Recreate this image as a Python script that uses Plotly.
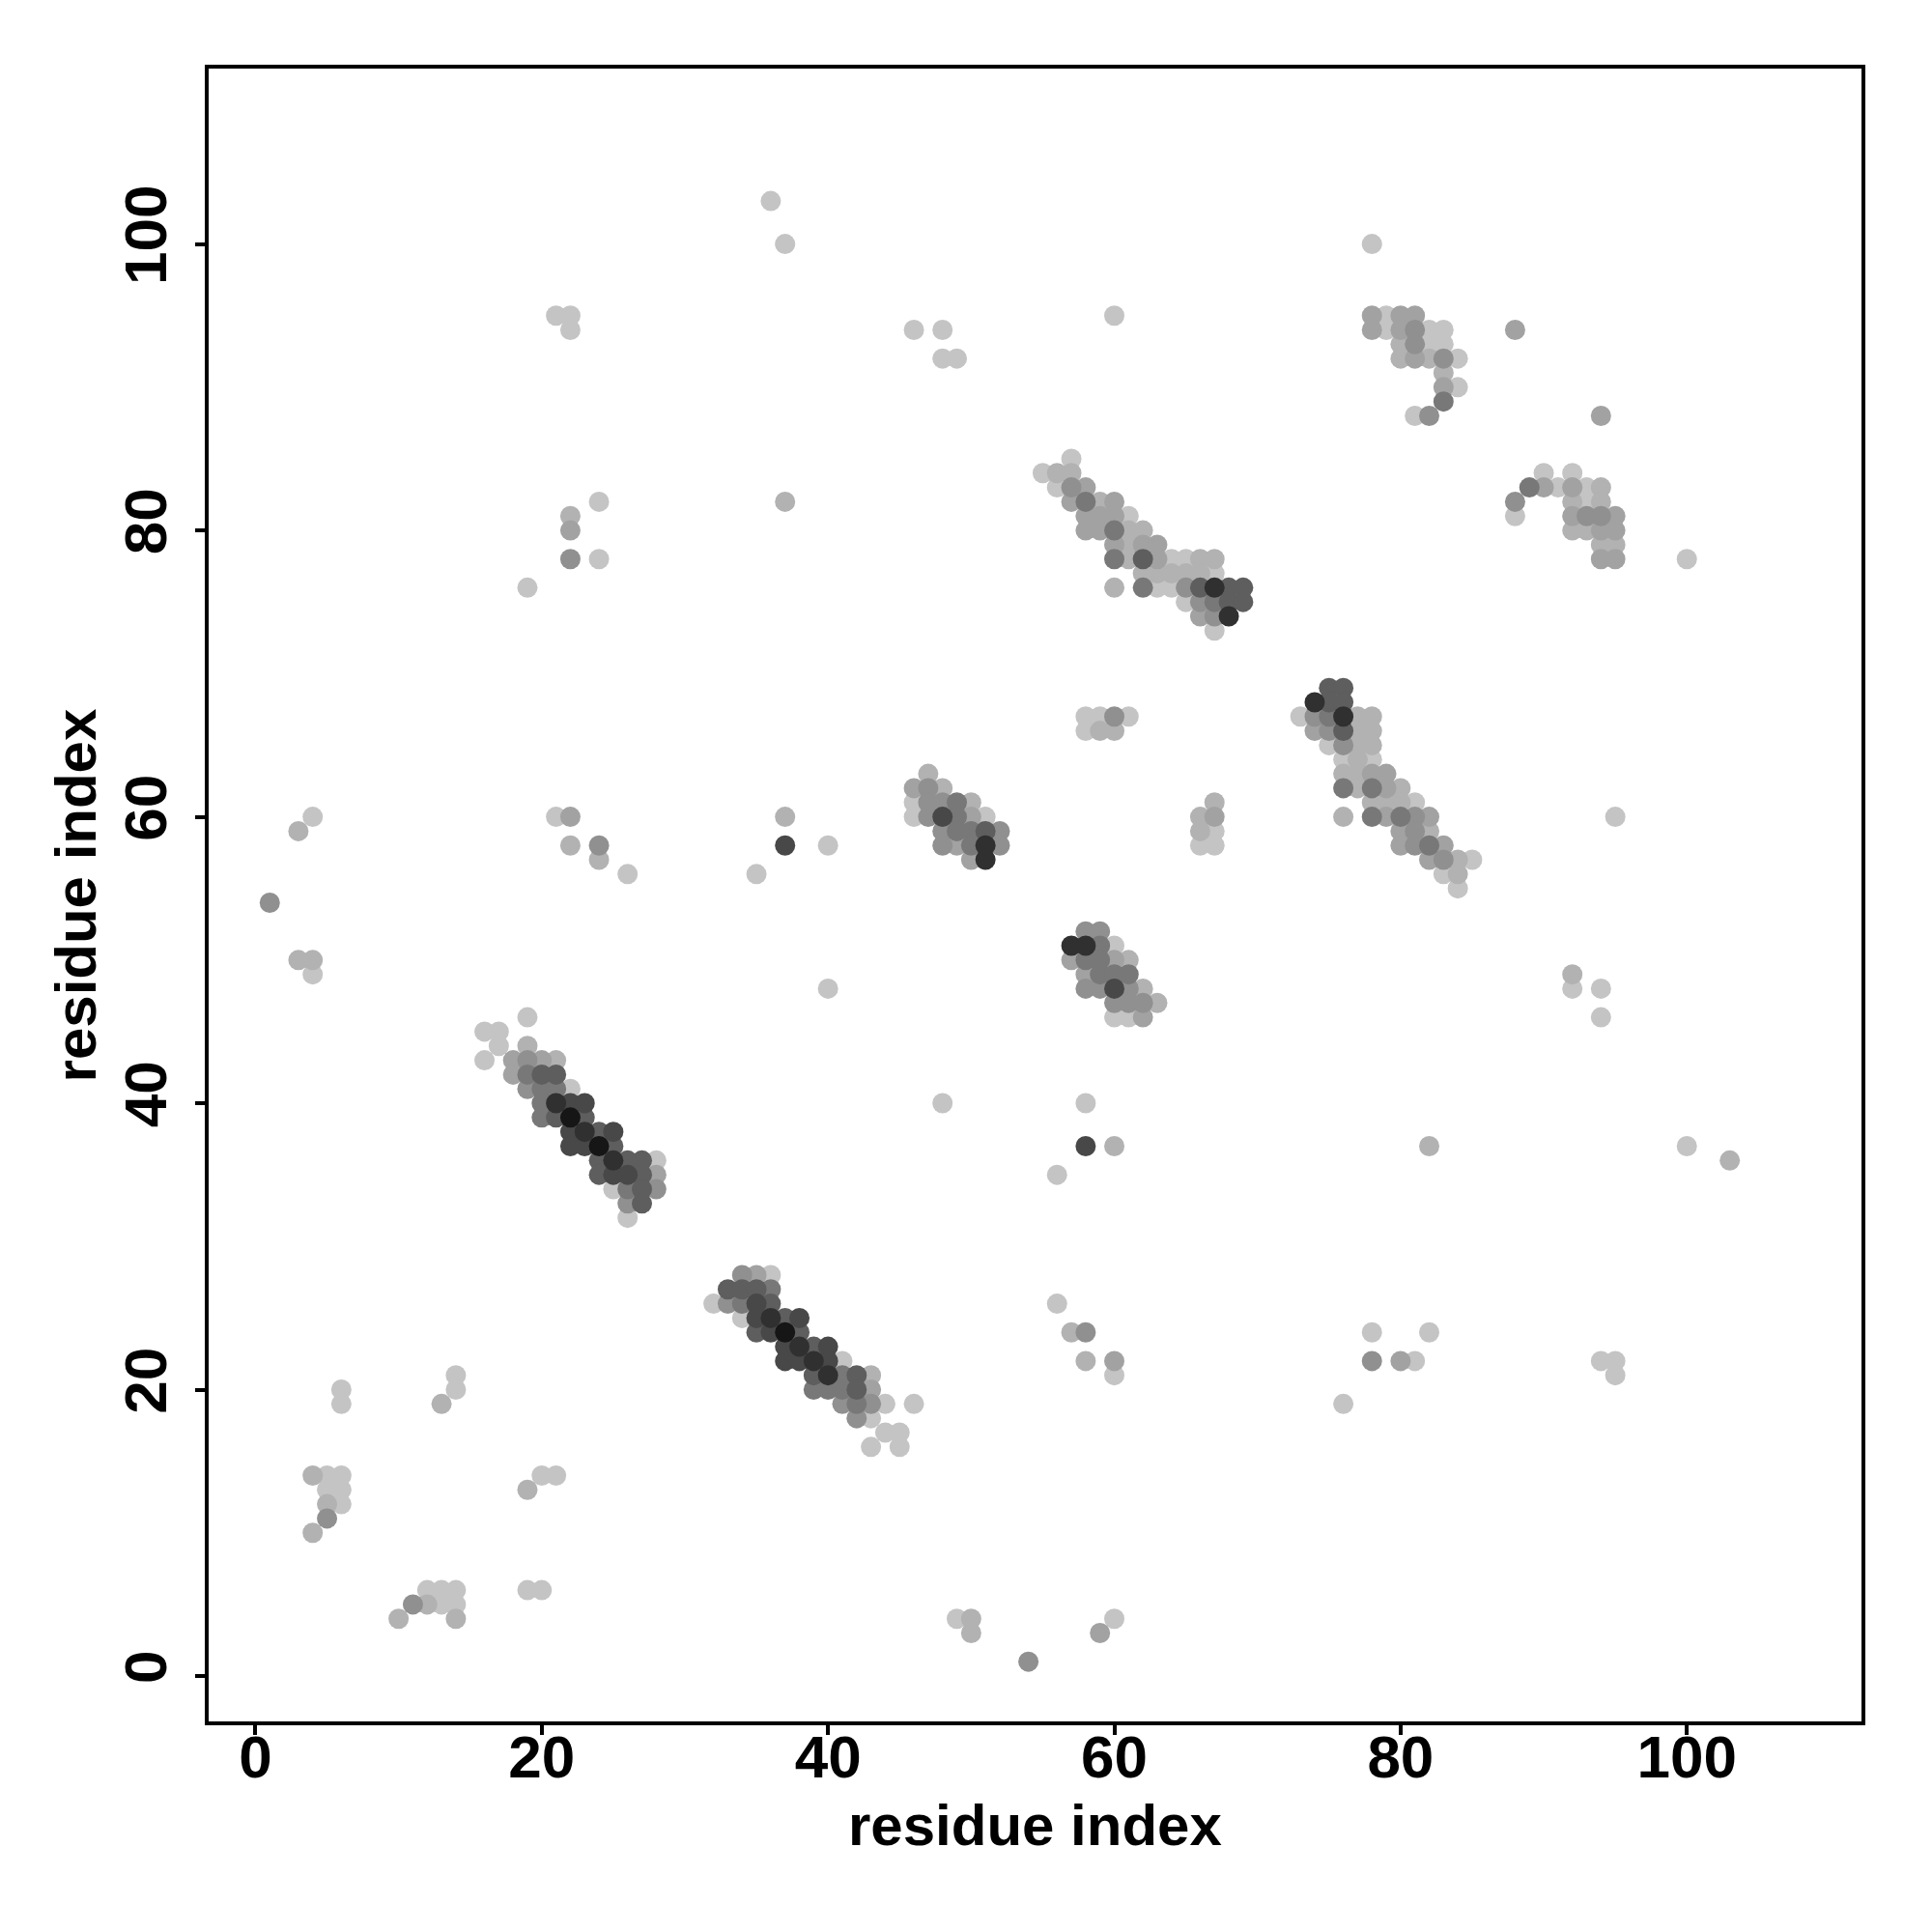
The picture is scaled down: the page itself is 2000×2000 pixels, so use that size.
import plotly.graph_objects as go

# Contact map points: (residue i, residue j, intensity level 1=lightest .. 9=darkest)
lower_left = [(6,20,1),(6,19,1),(14,21,1),(14,20,1),(13,19,2),(4,14,2),(5,14,1),(6,14,1),(5,13,1),(6,13,1),
              (5,12,2),(6,12,1),(5,11,4),(4,10,2),(20,14,1),(21,14,1),(19,13,2),(12,6,1),(13,6,1),(14,6,1),
              (11,5,4),(12,5,2),(13,5,1),(14,5,1),(10,4,2),(14,4,2),(19,6,1),(20,6,1)]

band_a = [(19,46,1),(16,45,1),(17,45,1),(17,44,1),(16,43,1),(19,44,2),(18,43,3),(19,43,4),(20,43,3),(21,43,2),
          (18,42,3),(19,42,5),(20,42,6),(21,42,6),(19,41,4),(20,41,5),(21,41,5),(22,41,1),(20,40,5),(21,40,8),
          (22,40,7),(23,40,7),(20,39,5),(21,39,6),(22,39,9),(23,39,6),(22,38,7),(23,38,8),(24,38,6),(25,38,7),
          (22,37,7),(23,37,7),(24,37,9),(25,37,6),(24,36,6),(25,36,8),(26,36,6),(27,36,6),(28,36,1),(24,35,6),
          (25,35,7),(26,35,7),(27,35,6),(28,35,3),(25,34,1),(26,34,5),(27,34,6),(28,34,4),(26,33,4),(27,33,6),
          (26,32,1)]

band_b = [(34,28,4),(35,28,3),(36,28,1),(33,27,6),(34,27,6),(35,27,6),(36,27,5),(32,26,1),(33,26,4),(34,26,5),
          (35,26,7),(36,26,6),(34,25,1),(35,25,7),(36,25,8),(37,25,6),(38,25,7),(35,24,6),(36,24,7),(37,24,9),
          (38,24,6),(37,23,7),(38,23,8),(39,23,6),(40,23,7),(37,22,7),(38,22,7),(39,22,8),(40,22,7),(41,22,1),
          (39,21,6),(40,21,8),(41,21,5),(42,21,6),(43,21,2),(39,20,5),(40,20,5),(41,20,5),(42,20,6),(43,20,3),
          (41,19,4),(42,19,5),(43,19,4),(44,19,1),(46,19,1),(42,18,4),(43,18,1),(44,17,1),(45,17,1),(43,16,1),
          (45,16,1)]

upper_left = [(36,103,1),(37,100,1),(21,95,1),(22,95,1),(22,94,1),(24,82,1),(22,81,2),(22,80,3),(22,78,4),
              (24,78,1),(19,76,1),(37,82,2),(4,60,1),(3,59,2),(21,60,1),(22,60,3),(22,58,2),(24,58,4),(24,57,2),
              (26,56,1),(37,60,2),(37,58,7),(40,58,1),(35,56,1),(1,54,4),(3,50,2),(4,50,2),(4,49,1),(40,48,1)]

middle = [(47,63,2),(46,62,3),(47,62,4),(48,62,2),(46,61,1),(47,61,4),(48,61,4),(49,61,5),(50,61,2),(46,60,1),
          (47,60,4),(48,60,7),(49,60,5),(50,60,3),(51,60,1),(48,59,4),(49,59,5),(50,59,5),(51,59,6),(52,59,4),
          (48,58,4),(49,58,3),(50,58,5),(51,58,8),(52,58,4),(50,57,3),(51,57,8),
          (58,52,4),(59,52,4),(57,51,8),(58,51,8),(59,51,5),(60,51,1),(57,50,3),(58,50,5),(59,50,5),(60,50,3),
          (61,50,2),(58,49,3),(59,49,5),(60,49,5),(61,49,5),(58,48,4),(59,48,4),(60,48,7),(61,48,4),(62,48,2),
          (60,47,4),(61,47,4),(62,47,4),(63,47,2),(60,46,1),(61,46,1),(62,46,3)]

band_c = [(57,85,1),(55,84,1),(56,84,2),(57,84,2),(56,83,1),(57,83,4),(58,83,3),(57,82,3),(58,82,5),(59,82,2),
          (60,82,3),(58,81,3),(59,81,3),(60,81,3),(61,81,1),(58,80,3),(59,80,3),(60,80,5),(61,80,2),(62,80,2),
          (60,79,3),(61,79,2),(62,79,3),(63,79,3),(60,78,5),(61,78,2),(62,78,6),(63,78,3),(64,78,1),(65,78,1),
          (66,78,2),(67,78,2),(62,77,2),(63,77,2),(64,77,2),(65,77,2),(66,77,2),(67,77,1),(60,76,2),(62,76,5),
          (63,76,1),(64,76,1),(65,76,4),(66,76,6),(67,76,8),(68,76,6),(69,76,6),(65,75,1),(66,75,4),(67,75,5),
          (68,75,6),(69,75,6),(66,74,3),(67,74,4),(68,74,8),(67,73,1)]

band_d = [(75,69,6),(76,69,6),(74,68,8),(75,68,6),(76,68,6),(73,67,1),(74,67,4),(75,67,5),(76,67,8),(77,67,2),
          (78,67,2),(74,66,3),(75,66,4),(76,66,6),(77,66,2),(78,66,2),(75,65,1),(76,65,4),(77,65,2),(78,65,2),
          (76,64,1),(77,64,2),(78,64,1),(76,63,2),(77,63,2),(78,63,3),(79,63,3),(76,62,5),(77,62,2),(78,62,5),
          (79,62,3),(80,62,2),(78,61,2),(79,61,2),(80,61,2),(81,61,1),(76,60,2),(78,60,5),(79,60,3),(80,60,5),
          (81,60,4),(82,60,3),(80,59,3),(81,59,4),(82,59,2),(80,58,3),(81,58,4),(82,58,5),(83,58,3),(82,57,3),
          (83,57,4),(84,57,2),(85,57,1),(83,56,1),(84,56,2),(84,55,1)]

upper_right = [(78,100,1),(78,95,3),(79,95,1),(80,95,3),(81,95,3),(78,94,3),(79,94,1),(80,94,3),(81,94,4),
               (82,94,1),(83,94,1),(80,93,2),(81,93,4),(82,93,1),(83,93,1),(80,92,2),(81,92,3),(82,92,2),
               (83,92,4),(84,92,1),(83,91,2),(83,90,3),(84,90,1),(83,89,5),(81,88,1),(82,88,4),(88,94,3),
               (94,88,3),(90,84,1),(92,84,1),(89,83,5),(90,83,3),(91,83,1),(92,83,3),(93,83,1),(94,83,2),
               (88,82,4),(88,81,1),(92,82,2),(93,82,1),(94,82,2),(92,81,3),(93,81,4),(94,81,4),(95,81,3),
               (92,80,2),(93,80,2),(94,80,3),(95,80,3),(94,79,2),(95,79,2),(94,78,3),(95,78,3)]

upper_mid = [(46,94,1),(48,94,1),(48,92,1),(49,92,1),(60,95,1),(58,67,1),(59,67,1),(60,67,4),(61,67,1),
             (58,66,1),(59,66,2),(60,66,2),(67,61,2),(66,60,2),(67,60,3),(66,59,2),(67,59,1),(66,58,1),(67,58,1)]

lower_right = [(48,40,1),(58,40,1),(58,37,7),(60,37,2),(56,35,1),(56,26,1),(57,24,2),(58,24,4),(58,22,2),
               (60,22,3),(60,21,1),(78,24,1),(78,22,4),(80,22,3),(81,22,1),(76,19,1),(49,4,1),(50,4,2),
               (50,3,2),(60,4,1),(59,3,3),(54,1,4),
               (100,78,1),(95,60,1),(92,49,2),(92,48,1),(94,48,1),(94,46,1),(82,37,2),(100,37,1),(103,36,2),
               (82,24,1),(94,22,1),(95,22,1),(95,21,1)]

tick_values = [0, 20, 40, 60, 80, 100]
axis_label = "residue index"

# gray value for each intensity level (style)
gray_of_level = {1: 196, 2: 178, 3: 162, 4: 144, 5: 120, 6: 94, 7: 72, 8: 48, 9: 22}

points = lower_left + band_a + band_b + upper_left + middle + band_c + band_d + upper_right + upper_mid + lower_right
points = sorted(points, key=lambda p: p[2])
xs = [p[0] for p in points]
ys = [p[1] for p in points]
cols = [f"rgb({gray_of_level[p[2]]},{gray_of_level[p[2]]},{gray_of_level[p[2]]})" for p in points]

fig = go.Figure()
fig.add_trace(go.Scatter(x=xs, y=ys, mode="markers",
                         marker=dict(size=21, color=cols, line=dict(width=0)),
                         showlegend=False, hoverinfo="skip"))

FONT = "Liberation Sans, Arial, Helvetica, sans-serif"
axis_common = dict(
    tickvals=tick_values, ticks="outside", ticklen=10, tickwidth=3.5, tickcolor="black",
    showline=True, linewidth=3.5, linecolor="black", mirror=True,
    showgrid=False, zeroline=False,
    tickfont=dict(family=FONT, size=62, color="black", weight="bold"),
)

fig.update_layout(
    width=2000, height=2000,
    margin=dict(l=208, r=81, t=63, b=226),
    paper_bgcolor="white", plot_bgcolor="white",
    xaxis=dict(range=[-3.27, 112.2], ticklabelstandoff=-30, **axis_common),
    yaxis=dict(range=[-3.17, 112.25], tickangle=-90, ticklabelstandoff=5, **axis_common),
    annotations=[
        dict(text=axis_label, xref="paper", yref="paper", x=0.5, y=-0.0631,
             xanchor="center", yanchor="middle", showarrow=False,
             font=dict(family=FONT, size=60, color="black", weight="bold")),
        dict(text=axis_label, xref="paper", yref="paper", x=-0.0801, y=0.5,
             xanchor="center", yanchor="middle", showarrow=False, textangle=-90,
             font=dict(family=FONT, size=60, color="black", weight="bold")),
    ],
)

fig.write_html("out.html")
